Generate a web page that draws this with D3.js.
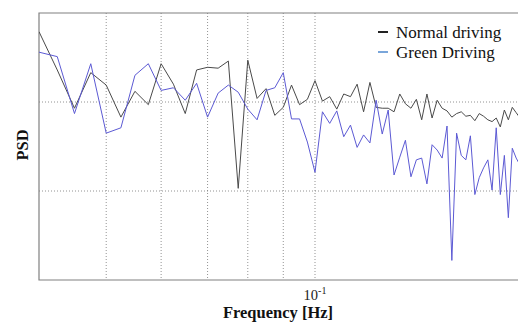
<!DOCTYPE html>
<html>
<head>
<meta charset="utf-8">
<script src="https://cdn.jsdelivr.net/npm/d3@7"></script>
<style>
  body { margin: 0; background: #fff; }
  text { font-family: "Liberation Serif", "Times New Roman", serif; }
</style>
</head>
<body>
<div id="chart"></div>
<script>
// frequency bins [Hz]
const freqs = [
  0.04, 0.0425, 0.045, 0.0475, 0.05, 0.0525, 0.055, 0.0575, 0.06, 0.0625,
  0.065, 0.0675, 0.07, 0.0725, 0.075, 0.0775, 0.08, 0.0825, 0.085, 0.0875,
  0.09, 0.0925, 0.095, 0.0975, 0.1, 0.1025, 0.105, 0.1075, 0.11, 0.1125,
  0.115, 0.1175, 0.12, 0.1225, 0.125, 0.1275, 0.13, 0.1325, 0.135, 0.1375,
  0.14, 0.1425, 0.145, 0.1475, 0.15, 0.1525, 0.155, 0.1575, 0.16, 0.1625,
  0.165, 0.1675, 0.17, 0.1725, 0.175, 0.1775, 0.18, 0.1825, 0.185, 0.1875,
  0.19, 0.1925, 0.195, 0.1975
];
// PSD in dB (log axis shown without labels)
const normalPsd = [
  -2.1, -6.4, -10.7, -6.7, -8.1, -11.7, -8.8, -10.3, -5.7, -8.0,
  -11.3, -6.4, -6.1, -6.2, -5.4, -19.7, -5.3, -9.6, -8.5, -11.5,
  -10.6, -8.1, -10.3, -9.7, -7.6, -9.9, -9.4, -10.8, -9.1, -9.4,
  -8.0, -11.1, -7.8, -10.6, -10.7, -10.7, -11.1, -9.1, -10.2, -10.7,
  -9.7, -12.0, -9.1, -11.8, -9.8, -10.7, -11.0, -11.7, -11.3, -11.1,
  -11.6, -11.5, -12.1, -11.3, -11.6, -12.0, -12.2, -11.8, -12.8, -10.9,
  -12.0, -10.6, -11.2, -11.8
];
const greenPsd = [
  -4.4, -4.9, -11.3, -5.7, -13.5, -12.9, -7.0, -5.7, -8.7, -8.4,
  -9.8, -7.9, -11.7, -9.0, -8.1, -8.9, -10.8, -12.0, -8.7, -8.4,
  -6.7, -11.9, -11.9, -14.5, -17.9, -11.1, -12.4, -11.0, -13.9, -12.6,
  -15.1, -13.7, -14.6, -9.8, -13.6, -10.9, -18.2, -16.2, -14.3, -18.4,
  -16.5, -16.3, -19.2, -14.8, -15.4, -16.3, -12.7, -27.8, -13.5, -16.0,
  -16.5, -13.8, -20.4, -18.5, -17.4, -16.5, -19.9, -12.9, -20.4, -16.0,
  -23.0, -15.2, -16.3, -17.1
];
const xGrid = [0.05, 0.06, 0.07, 0.08, 0.09, 0.1];
const yGrid = [-10, -20];
const seriesNames = ['Normal driving', 'Green Driving'];

const width = 518, height = 325;
const padL = 39, padT = 13, plotBottom = 280;

const svg = d3.select('#chart').append('svg')
    .attr('width', width)
    .attr('height', height);

const x = d3.scaleLog()
    .domain([0.04, 0.2])
    .range([padL, padL + 693.6 * Math.log10(5)]);
const y = d3.scaleLinear()
    .domain([-30, 0])
    .range([plotBottom, padT]);

svg.append('defs').append('clipPath').attr('id', 'clip')
  .append('rect')
    .attr('x', padL).attr('y', padT)
    .attr('width', width - padL).attr('height', plotBottom - padT);

// grid
svg.append('g').selectAll('line')
  .data(xGrid).enter().append('line')
    .attr('x1', d => x(d)).attr('x2', d => x(d))
    .attr('y1', padT).attr('y2', plotBottom)
    .attr('stroke', '#777').attr('stroke-width', 0.8)
    .attr('stroke-dasharray', '1,2');
svg.append('g').selectAll('line')
  .data(yGrid).enter().append('line')
    .attr('x1', padL).attr('x2', width)
    .attr('y1', d => y(d)).attr('y2', d => y(d))
    .attr('stroke', '#777').attr('stroke-width', 0.8)
    .attr('stroke-dasharray', '1,2');

// frame
svg.append('path')
    .attr('d', `M${width},${padT}H${padL}V${plotBottom}H${width}`)
    .attr('fill', 'none')
    .attr('stroke', '#808080')
    .attr('stroke-width', 1.2);

// lines
const line = d3.line()
    .x((d, i) => x(freqs[i]))
    .y(d => y(d));

const plot = svg.append('g').attr('clip-path', 'url(#clip)');
plot.append('path')
    .datum(normalPsd)
    .attr('d', line)
    .attr('fill', 'none')
    .attr('stroke', '#4a4a4a')
    .attr('stroke-width', 1);
plot.append('path')
    .datum(greenPsd)
    .attr('d', line)
    .attr('fill', 'none')
    .attr('stroke', '#5c5ad4')
    .attr('stroke-width', 1);

// tick label 10^-1
const tick = svg.append('text')
    .attr('x', x(0.1))
    .attr('y', 300)
    .attr('text-anchor', 'middle')
    .attr('font-size', '14.5px')
    .attr('fill', '#222');
tick.append('tspan').text('10');
tick.append('tspan').attr('dy', -6).attr('font-size', '10px').text('-1');

// axis labels
svg.append('text')
    .attr('x', 278)
    .attr('y', 318)
    .attr('text-anchor', 'middle')
    .attr('font-size', '16.5px')
    .attr('font-weight', 'bold')
    .attr('fill', '#111')
    .text('Frequency [Hz]');
svg.append('text')
    .attr('transform', 'translate(28,145) rotate(-90)')
    .attr('text-anchor', 'middle')
    .attr('font-size', '16.5px')
    .attr('font-weight', 'bold')
    .attr('fill', '#111')
    .text('PSD');

// legend
const legend = svg.append('g').attr('transform', 'translate(378,32)');
const legendColors = ['#222', '#7aa6da'];
seriesNames.forEach((name, i) => {
  legend.append('line')
      .attr('x1', 0).attr('x2', 10)
      .attr('y1', i * 20).attr('y2', i * 20)
      .attr('stroke', legendColors[i])
      .attr('stroke-width', 2);
  legend.append('text')
      .attr('x', 18)
      .attr('y', i * 20 + 5.5)
      .attr('font-size', '17px')
      .attr('fill', '#111')
      .text(name);
});
</script>
</body>
</html>
